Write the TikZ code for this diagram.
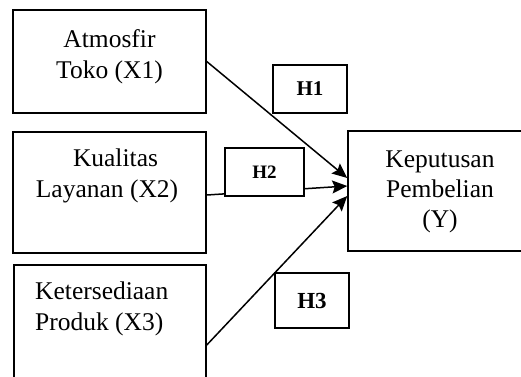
\documentclass[tikz,border=0pt]{standalone}
\usepackage{fontspec}
\setmainfont{Liberation Serif}
\usetikzlibrary{arrows.meta,calc}
\begin{document}
\begin{tikzpicture}[x=1pt,y=-1pt,
  box/.style={draw,line width=1.5pt,rectangle,inner sep=0pt,fill=white},
  lbl/.style={font=\fontsize{25.5}{31}\selectfont,inner sep=0pt},
  hyp/.style={font=\bfseries\fontsize{#1}{#1}\selectfont},
  conn/.style={line width=1.5pt,-{Stealth[length=15pt,width=13pt,inset=2.5pt]}}]
\useasboundingbox (0,0) rectangle (521,376);
\clip (0,0) rectangle (521,376);
\fill[white] (0,0) rectangle (521,376);
% boxes
\node[box,minimum width=193pt,minimum height=103pt] (x1) at (109.5,61.5) {};
\node[box,minimum width=193pt,minimum height=121pt] (x2) at (109.5,192.5) {};
\node[box,minimum width=192pt,minimum height=160pt] (x3) at (110,345) {};
\node[box,minimum width=187pt,minimum height=120pt] (y) at (441.5,191) {};
% labels
\node[lbl,align=center,anchor=base] (tx1) at (109.5,78) {Atmosfir\\Toko (X1)};
\node[lbl,align=center,anchor=base] (tx2) at (107,197) {\hspace*{17pt}Kualitas\\Layanan (X2)};
\node[lbl,align=left,anchor=base west] (tx3) at (35,330) {Ketersediaan\\Produk (X3)};
\node[lbl,align=center,anchor=base,font=\fontsize{25.5}{30}\selectfont] (ty) at (440,227) {Keputusan\\Pembelian\\(Y)};
% connectors
\draw[conn] (x1.east) -- ($(y.west)+(0,-13)$);
\draw[conn] ($(x2.east)+(0,2.5)$) -- ($(y.west)+(0,-5)$);
\draw[conn] (x3.east) -- ($(y.west)+(0,5)$);
% hypothesis boxes
\node[box,minimum width=74pt,minimum height=48pt,hyp=21] (h1) at (310,89) {H1};
\node[box,minimum width=79pt,minimum height=48pt,hyp=19] (h2) at (264.5,172) {H2};
\node[box,minimum width=74pt,minimum height=55pt,hyp=23] (h3) at (312,300.5) {H3};
\end{tikzpicture}
\end{document}
